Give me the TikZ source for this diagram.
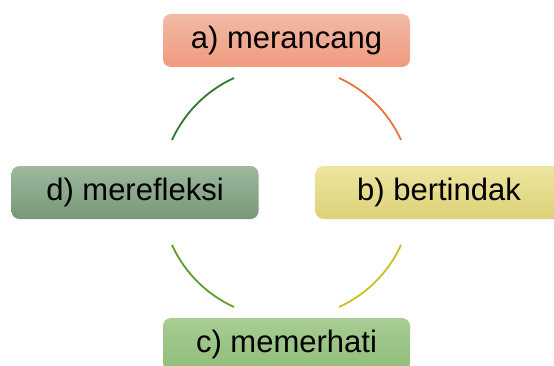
\documentclass[tikz,border=0pt]{standalone}
\usepackage{fontspec}
\setmainfont{Liberation Sans}
\usepackage{tikz}
\definecolor{planTop}{HTML}{F3BAA6}
\definecolor{planBot}{HTML}{EF9A7E}
\definecolor{actTop}{HTML}{ECE5A0}
\definecolor{actBot}{HTML}{DDD276}
\definecolor{obsTop}{HTML}{A8CC94}
\definecolor{obsBot}{HTML}{8FBD78}
\definecolor{refTop}{HTML}{9EB99E}
\definecolor{refBot}{HTML}{779777}
\definecolor{arcAB}{HTML}{E8743A}
\definecolor{arcBC}{HTML}{C9BF22}
\definecolor{arcCD}{HTML}{5E9C2C}
\definecolor{arcDA}{HTML}{2C7A30}
\tikzset{stage/.style={rounded corners=8pt, minimum width=247pt, minimum height=53pt, inner sep=0pt, font=\fontsize{31}{36}\selectfont}}
\tikzset{cyc/.style={line width=1.8pt}}

\begin{document}
\begin{tikzpicture}[x=1pt,y=1pt]
                \useasboundingbox (0,0) rectangle (554,365);
                \begin{scope}
                \clip (0,0) rectangle (554,365);
                \node[stage, top color=planTop, bottom color=planBot] (merancang) at (286.5,324.5) {a) merancang};
                \node[stage, top color=actTop, bottom color=actBot] (bertindak) at (439,172.5) {b) bertindak};
                \node[stage, top color=obsTop, bottom color=obsBot] (memerhati) at (286.5,20.5) {c) memerhati};
                \node[stage, top color=refTop, bottom color=refBot] (merefleksi) at (135,172.5) {d) merefleksi};
                \end{scope}
                \coordinate (ctr) at (286.5,172.5);
                % the four arcs of the cycle
                \draw[cyc, arcAB] ([shift={(65.4:126)}]ctr) arc[start angle=65.4, end angle=24.6, radius=126];
                \draw[cyc, arcBC] ([shift={(335.4:126)}]ctr) arc[start angle=335.4, end angle=294.6, radius=126];
                \draw[cyc, arcCD] ([shift={(245.4:126)}]ctr) arc[start angle=245.4, end angle=204.6, radius=126];
                \draw[cyc, arcDA] ([shift={(155.4:126)}]ctr) arc[start angle=155.4, end angle=114.6, radius=126];
            \end{tikzpicture}
\end{document}
